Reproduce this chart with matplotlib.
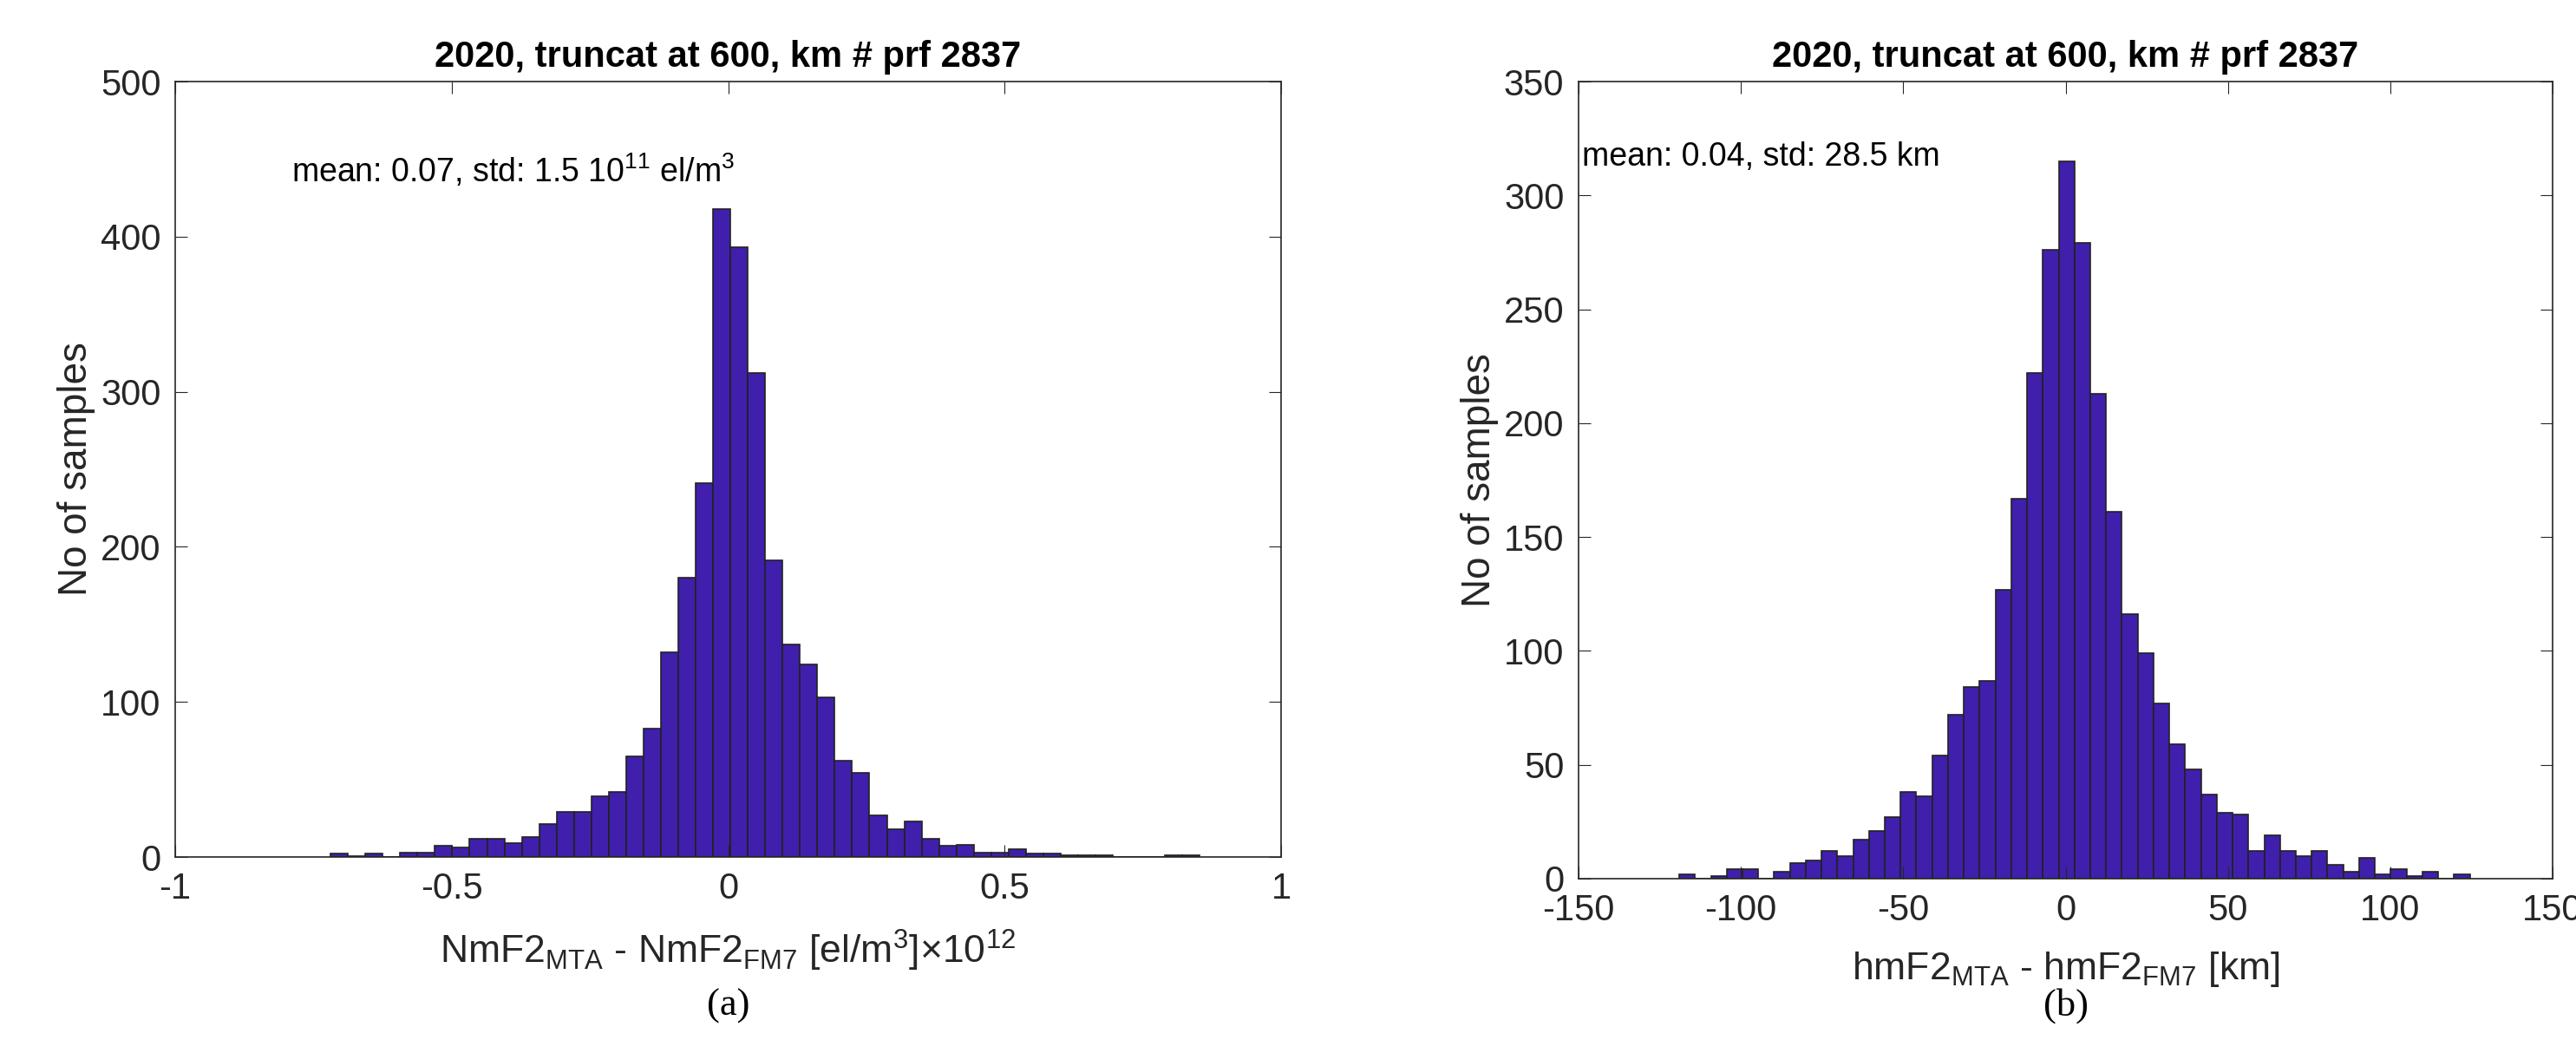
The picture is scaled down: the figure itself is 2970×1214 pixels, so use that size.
import numpy as np
import matplotlib
matplotlib.use("Agg")
import matplotlib.pyplot as plt

# left panel: NmF2 difference (x 1e12), 50 bins
nm_start, nm_width = -0.719, 0.03144
nm_counts = [2, 0.5, 2, 0, 3, 3, 7, 6, 12, 12, 9, 13, 21, 29, 29, 39, 42, 65, 83, 132,
             180, 241, 418, 393, 312, 191, 137, 124, 103, 62, 54, 27, 18, 23, 12, 7, 8, 3, 3, 5,
             2, 2, 1, 1, 1, 0, 0, 0, 1, 1]

# right panel: hmF2 difference [km], 50 bins
hm_start, hm_width = -119.0, 4.87
hm_counts = [2, 0, 1, 4, 4, 0, 3, 7, 8, 12, 10, 17, 21, 27, 38, 36, 54, 72, 84, 87,
             127, 167, 222, 276, 315, 279, 213, 161, 116, 99, 77, 59, 48, 37, 29, 28, 12, 19, 12, 10,
             12, 6, 3, 9, 2, 4, 1, 3, 0, 2]

bar_color = '#3f1fab'
plt.rcParams['font.family'] = ['Liberation Sans', 'DejaVu Sans']
plt.rcParams['axes.unicode_minus'] = False
plt.rcParams['mathtext.fontset'] = 'custom'
plt.rcParams['mathtext.rm'] = 'Liberation Sans'

fig = plt.figure(figsize=(29.7, 12.14), dpi=100)
W, H = 2970, 1214
ax1 = fig.add_axes([202 / W, 1 - 988 / H, (1477 - 202) / W, (988 - 94) / H])
ax2 = fig.add_axes([1820 / W, 1 - 1013 / H, (2943 - 1820) / W, (1013 - 94) / H])


def draw(ax, start, width, counts, xlim, ylim, xticks, yticks):
    edges = start + width * np.arange(len(counts) + 1)
    ax.bar(edges[:-1], counts, width=width, align='edge', color=bar_color,
           edgecolor='#222222', linewidth=1.2)
    ax.set_xlim(*xlim)
    ax.set_ylim(*ylim)
    ax.set_xticks(xticks)
    ax.set_yticks(yticks)
    ax.tick_params(labelsize=30, direction='in', length=10, top=True, right=True,
                   labeltop=False, labelright=False, colors='#262626', pad=12)
    for s in ax.spines.values():
        s.set_color('#262626')
        s.set_linewidth(1.2)
    ax.set_ylabel('No of samples', fontsize=33, color='#262626')
    ax.set_title('2020, truncat at 600, km # prf 2837', fontsize=30, fontweight='bold', pad=12)


draw(ax1, nm_start, nm_width, nm_counts, (-1, 1), (0, 500),
     [-1, -0.5, 0, 0.5, 1], range(0, 501, 100))
ax1.set_xticklabels(['-1', '-0.5', '0', '0.5', '1'])
ax1.set_xlabel(r'NmF2$_{\mathrm{MTA}}$ - NmF2$_{\mathrm{FM7}}$ [el/m$^3$]$\times$10$^{12}$',
               fontsize=32, color='#262626', labelpad=18)
ax1.text(-0.79, 435, r'mean: 0.07, std: 1.5 10$^{11}$ el/m$^3$', fontsize=27)

draw(ax2, hm_start, hm_width, hm_counts, (-150, 150), (0, 350),
     range(-150, 151, 50), range(0, 351, 50))
ax2.set_xlabel(r'hmF2$_{\mathrm{MTA}}$ - hmF2$_{\mathrm{FM7}}$ [km]',
               fontsize=32, color='#262626', labelpad=18)
ax2.text(-149, 313, 'mean: 0.04, std: 28.5 km', fontsize=27)

fig.text((202 + 1477) / 2 / W, 1 - 1160 / H, '(a)', fontsize=32, family='Liberation Serif',
         ha='center', va='center')
fig.text((1820 + 2943) / 2 / W, 1 - 1160 / H, '(b)', fontsize=32, family='Liberation Serif',
         ha='center', va='center')

fig.savefig('out.png', dpi=100, facecolor='white')
